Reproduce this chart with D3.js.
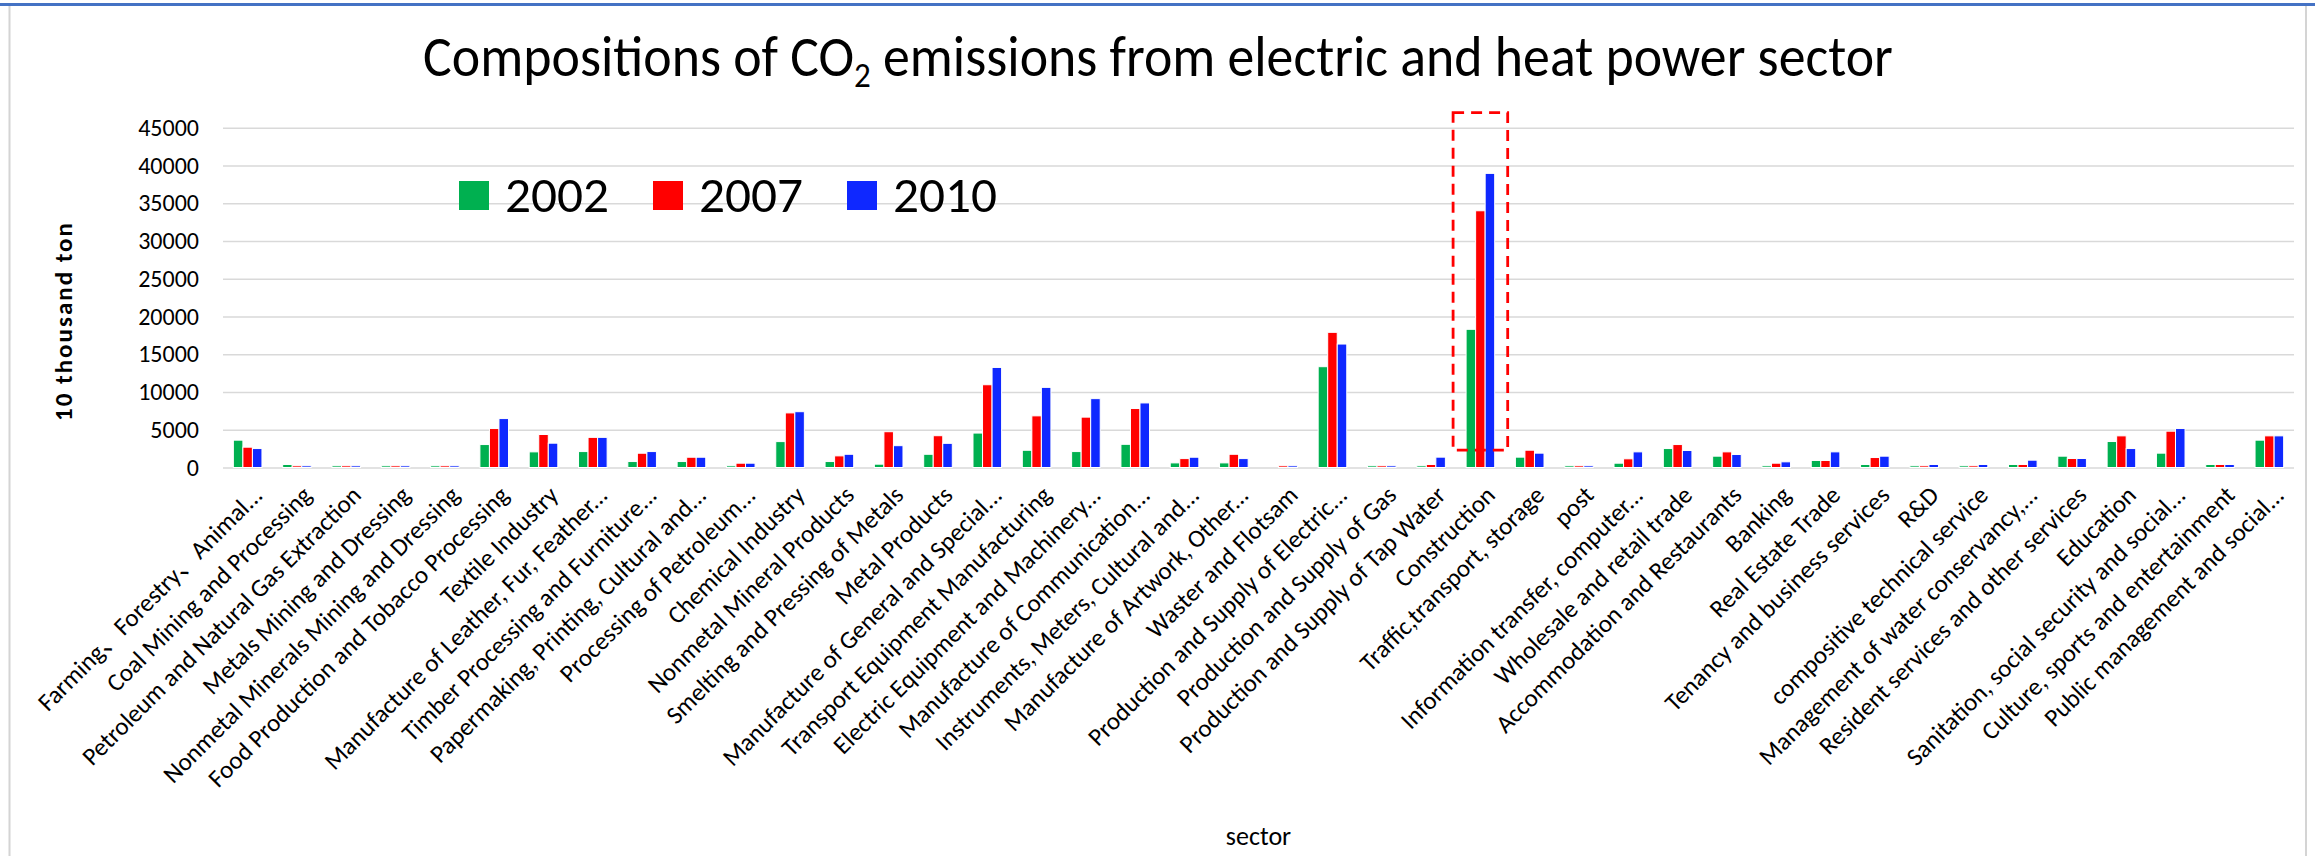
<!DOCTYPE html>
<html>
<head>
<meta charset="utf-8">
<script src="https://cdn.jsdelivr.net/npm/d3@7"></script>
<style>
  html, body { margin: 0; padding: 0; background: #ffffff; }
  svg { display: block; }
  text { font-family: "Carlito", "Lato", "Open Sans", sans-serif; fill: #000; }
</style>
</head>
<body>
<svg id="chart" width="2315" height="856"></svg>
<script>
// Sectors (category axis)
const sectors = [
  "Farming、Forestry、Animal...",
  "Coal Mining and Processing",
  "Petroleum and Natural Gas Extraction",
  "Metals Mining and Dressing",
  "Nonmetal Minerals Mining and Dressing",
  "Food Production and Tobacco Processing",
  "Textile Industry",
  "Manufacture of Leather, Fur, Feather...",
  "Timber Processing and Furniture...",
  "Papermaking, Printing, Cultural and...",
  "Processing of Petroleum...",
  "Chemical Industry",
  "Nonmetal Mineral Products",
  "Smelting and Pressing of Metals",
  "Metal Products",
  "Manufacture of General and Special...",
  "Transport Equipment Manufacturing",
  "Electric Equipment and Machinery...",
  "Manufacture of Communication...",
  "Instruments, Meters, Cultural and...",
  "Manufacture of Artwork, Other...",
  "Waster and Flotsam",
  "Production and Supply of Electric...",
  "Production and Supply of Gas",
  "Production and Supply of Tap Water",
  "Construction",
  "Traffic,transport, storage",
  "post",
  "Information transfer, computer...",
  "Wholesale and retail trade",
  "Accommodation and Restaurants",
  "Banking",
  "Real Estate Trade",
  "Tenancy and business services",
  "R&D",
  "compositive technical service",
  "Management of water conservancy,...",
  "Resident services and other services",
  "Education",
  "Sanitation, social security and social...",
  "Culture, sports and entertainment",
  "Public management and social..."
];

// CO2 emissions, 10 thousand ton
const v2002 = [3620, 400, 220, 220, 220, 3040, 2070, 2110, 790, 790,
               220, 3430, 790, 440, 1750, 4560, 2280, 2110, 3070, 610,
               610, 0, 13350, 220, 220, 18300, 1370, 220, 570, 2510,
               1500, 220, 930, 400, 220, 220, 400, 1500, 3440, 1900,
               400, 3620];
const v2007 = [2690, 220, 220, 220, 220, 5160, 4370, 3990, 1890, 1360,
               570, 7230, 1540, 4740, 4210, 10960, 6840, 6670, 7810, 1180,
               1750, 220, 17900, 220, 400, 34000, 2290, 220, 1150, 3040,
               2070, 570, 930, 1320, 220, 220, 400, 1190, 4190, 4810,
               400, 4190];
const v2010 = [2510, 220, 220, 220, 220, 6480, 3220, 3990, 2110, 1360,
               570, 7390, 1750, 2890, 3200, 13250, 10610, 9120, 8550, 1360,
               1180, 220, 16350, 220, 1370, 38950, 1900, 220, 2070, 2250,
               1720, 750, 2070, 1500, 400, 400, 970, 1190, 2510, 5160,
               400, 4190];

const seriesNames = ["2002", "2007", "2010"];
const seriesColors = ["#00B050", "#FF0000", "#0F28FF"];
const yTicks = [0, 5000, 10000, 15000, 20000, 25000, 30000, 35000, 40000, 45000];

// Highlighted sector and the value span of its frame
const highlightSector = "Construction";
const highlightSpan = [2300, 47000];

const seriesValues = [v2002, v2007, v2010];
const rows = sectors.map((s, i) => ({
  sector: s,
  values: seriesNames.map((n, j) => ({ name: n, value: seriesValues[j][i], color: seriesColors[j] }))
}));

const svg = d3.select("#chart");
const W = 2315, H = 856;
const plot = { left: 223, right: 2294, top: 127.7, bottom: 467.5 };

// chart frame
svg.append("rect").attr("x", 0).attr("y", 0).attr("width", W).attr("height", H).attr("fill", "#fff");
svg.append("line").attr("x1", 9.5).attr("x2", 9.5).attr("y1", 6).attr("y2", H)
  .attr("stroke", "#d4d4d4").attr("stroke-width", 2);
svg.append("line").attr("x1", 2306).attr("x2", 2306).attr("y1", 6).attr("y2", H)
  .attr("stroke", "#d4d4d4").attr("stroke-width", 2);
svg.append("line").attr("x1", 0).attr("x2", W).attr("y1", 4.5).attr("y2", 4.5)
  .attr("stroke", "#4472C4").attr("stroke-width", 3);

const x0 = d3.scaleBand().domain(sectors).range([plot.left, plot.right])
  .paddingInner(0.42).paddingOuter(0.21);
const x1 = d3.scaleBand().domain(seriesNames).range([0, x0.bandwidth()]).padding(0);
const y = d3.scaleLinear().domain([0, 45000]).range([plot.bottom, plot.top]);

// gridlines + y tick labels
const yAxis = d3.axisLeft(y).tickValues(yTicks).tickSize(-(plot.right - plot.left))
  .tickPadding(24).tickFormat(d3.format("d"));
const gy = svg.append("g").attr("transform", `translate(${plot.left},0)`).call(yAxis);
gy.select(".domain").remove();
gy.selectAll(".tick line").attr("stroke", "#d9d9d9").attr("stroke-width", 1.6);
gy.selectAll(".tick text").attr("font-size", 24).attr("fill", "#000")
  .style("font-family", '"Carlito","Lato",sans-serif');

// bars
const groups = svg.append("g").selectAll("g").data(rows).join("g")
  .attr("transform", d => `translate(${x0(d.sector)},0)`);
groups.selectAll("rect").data(d => d.values).join("rect")
  .attr("x", d => x1(d.name))
  .attr("width", x1.bandwidth())
  .attr("y", d => y(d.value))
  .attr("height", d => y(0) - y(d.value))
  .attr("fill", d => d.color)
  .attr("stroke", "#fff").attr("stroke-width", 1);

// category labels, rotated
const xAxis = d3.axisBottom(x0).tickSize(0).tickPadding(0);
const gx = svg.append("g").attr("transform", `translate(0,${plot.bottom})`).call(xAxis);
gx.select(".domain").remove();
gx.selectAll(".tick text")
  .attr("font-size", 25)
  .attr("fill", "#000")
  .attr("text-anchor", "end")
  .attr("y", 0).attr("dy", "0.35em")
  .attr("transform", "translate(10,23) rotate(-45)")
  .style("font-family", '"Carlito","Lato","Noto Sans CJK SC",sans-serif');

// highlight frame around the dominant sector
const hx = x0(highlightSector);
svg.append("rect")
  .attr("x", hx - 13).attr("width", x0.bandwidth() + 26)
  .attr("y", y(highlightSpan[1])).attr("height", y(highlightSpan[0]) - y(highlightSpan[1]))
  .attr("fill", "none").attr("stroke", "#FF0000").attr("stroke-width", 2.8)
  .attr("stroke-dasharray", "11,7");

// title, narrowed horizontally to its target width
const titleWidth = 1470;
const titleG = svg.append("g");
const title = titleG.append("text").attr("x", 0).attr("y", 0)
  .attr("text-anchor", "middle").attr("font-size", 57);
title.append("tspan").text("Compositions of CO");
title.append("tspan").attr("font-size", 35).attr("dy", 11).text("2");
title.append("tspan").attr("dy", -11).text(" emissions from electric and heat power sector");
const tw = title.node().getComputedTextLength();
titleG.attr("transform", `translate(1158,76) scale(${titleWidth / tw},1)`);

// legend
const legend = svg.append("g").selectAll("g").data(seriesNames).join("g")
  .attr("transform", (d, i) => `translate(${459 + i * 194},181)`);
legend.append("rect").attr("width", 30).attr("height", 29)
  .attr("fill", (d, i) => seriesColors[i]);
legend.append("text").attr("x", 46).attr("y", 31).attr("font-size", 50)
  .attr("textLength", 104).attr("lengthAdjust", "spacingAndGlyphs").text(d => d);

// axis titles
svg.append("text").attr("transform", "translate(72,322) rotate(-90)")
  .attr("text-anchor", "middle").attr("font-size", 25).attr("font-weight", "bold")
  .attr("textLength", 198).attr("lengthAdjust", "spacing")
  .text("10 thousand ton");
svg.append("text").attr("x", (plot.left + plot.right) / 2).attr("y", 845)
  .attr("text-anchor", "middle").attr("font-size", 26).text("sector");
</script>
</body>
</html>
